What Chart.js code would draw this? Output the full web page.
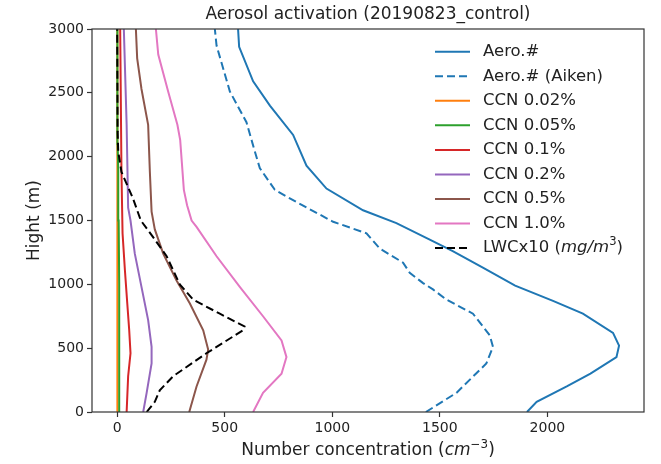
<!DOCTYPE html>
<html><head><meta charset="utf-8">
<script src="https://cdn.jsdelivr.net/npm/chart.js@4.4.0/dist/chart.umd.min.js"></script>
<style>html,body{margin:0;padding:0;background:#fff;}#wrap{width:661px;height:464px;}</style>
</head><body><div id="wrap"><canvas id="c" width="661" height="464"></canvas></div>
<script>
// ---- data (heights in m, number concentration in cm^-3) ----
const seriesLabels = ['Aero.#', 'Aero.# (Aiken)', 'CCN 0.02%', 'CCN 0.05%', 'CCN 0.1%', 'CCN 0.2%', 'CCN 0.5%', 'CCN 1.0%', 'LWCx10 (mg/m3)'];
const xTicks = [0, 500, 1000, 1500, 2000];
const yTicks = [0, 500, 1000, 1500, 2000, 2500, 3000];

const aeroH = [0,80,200,300,430,520,620,770,870,990,1130,1260,1350,1480,1580,1750,1930,2170,2400,2590,2860,3000];
const aeroN = [1905,1950,2090,2200,2321,2333,2305,2165,2026,1850,1700,1560,1453,1298,1143,973,880,818,710,632,567,562];

const aikenH = [0,150,380,510,600,770,880,960,1010,1090,1170,1280,1400,1490,1630,1740,1910,2040,2270,2510,2870,3000];
const aikenN = [1435,1577,1716,1747,1732,1654,1531,1468,1422,1360,1329,1221,1159,1004,849,733,663,640,601,524,462,454];

const ccn002H = [0,500,1000,1500,2000,2500,3000];
const ccn002N = [2,2,2,1,1,0,0];

const ccn005H = [0,500,1000,1500,1900,2100,3000];
const ccn005N = [9,10,9,7,5,2,1];

const ccn01H = [0,280,460,640,850,1110,1400,1880,3000];
const ccn01N = [44,51,62,56,47,36,25,20,14];

const ccn02H = [0,150,380,510,720,980,1240,1500,1600,2250,3000];
const ccn02N = [121,137,160,160,144,113,82,62,51,44,31];

const ccn05H = [0,200,410,490,640,850,1030,1240,1430,1570,1880,2250,2530,2770,3000];
const ccn05N = [335,369,415,423,400,338,276,214,175,160,152,144,113,93,87];

const ccn10H = [0,150,300,430,560,750,980,1220,1450,1500,1620,1740,2130,2250,2510,2800,3000];
const ccn10N = [632,678,764,787,764,678,570,462,369,346,325,310,293,280,237,191,180];

const lwcH = [0,80,170,280,460,640,670,770,880,1000,1220,1370,1500,1670,1880,2040,2200,3000];
const lwcN = [137,175,198,260,415,585,592,477,353,291,230,167,110,74,20,5,2,0];

// ---- styling ----
const colors = ['#1f77b4','#1f77b4','#ff7f0e','#2ca02c','#d62728','#9467bd','#8c564b','#e377c2','#000000'];
const dashes = [[],[8,4],[],[],[],[],[],[],[8,4]];
const FONT = "'DejaVu Sans', 'Liberation Sans', sans-serif";

const heights = [aeroH, aikenH, ccn002H, ccn005H, ccn01H, ccn02H, ccn05H, ccn10H, lwcH];
const values  = [aeroN, aikenN, ccn002N, ccn005N, ccn01N, ccn02N, ccn05N, ccn10N, lwcN];

function pts(hs, ns){ return hs.map((h,i)=>({x: ns[i], y: h})); }

const datasets = seriesLabels.map((lab, i) => ({
  label: lab,
  data: pts(heights[i], values[i]),
  borderColor: colors[i],
  backgroundColor: colors[i],
  borderWidth: 2,
  borderDash: dashes[i],
  pointRadius: 0,
  showLine: true,
  fill: false,
  tension: 0,
  order: seriesLabels.length - i
}));

// rich text helper: parts = [[text, style]] style in n / i / sup
function richWidth(ctx, parts, size){
  let w = 0;
  for (const [t, s] of parts){
    const sz = s === 'sup' ? size*0.7 : size;
    ctx.font = (s === 'i' ? 'italic ' : '') + sz + 'px ' + FONT;
    w += ctx.measureText(t).width;
  }
  return w;
}
function drawRich(ctx, parts, x, y, size){
  let cx = x;
  ctx.textBaseline = 'middle';
  ctx.textAlign = 'left';
  for (const [t, s] of parts){
    const sz = s === 'sup' ? size*0.7 : size;
    ctx.font = (s === 'i' ? 'italic ' : '') + sz + 'px ' + FONT;
    const dy = s === 'sup' ? -size*0.38 : 0;
    ctx.fillText(t, cx, y + dy);
    cx += ctx.measureText(t).width;
  }
}

const legendParts = seriesLabels.map(l => l === 'LWCx10 (mg/m3)'
  ? [['LWCx10 (', 'n'], ['mg/m', 'i'], ['3', 'sup'], [')', 'n']]
  : [[l, 'n']]);

const decor = {
  id: 'decor',
  afterDatasetsDraw(chart){
    const ctx = chart.ctx, a = chart.chartArea;
    ctx.save();
    // spines
    ctx.strokeStyle = '#333';
    ctx.lineWidth = 1.2;
    ctx.setLineDash([]);
    ctx.strokeRect(a.left, a.top, a.right - a.left, a.bottom - a.top);
    // title
    ctx.fillStyle = '#222';
    ctx.font = '17px ' + FONT;
    ctx.textAlign = 'center';
    ctx.textBaseline = 'middle';
    ctx.fillText('Aerosol activation (20190823_control)', (a.left + a.right)/2, 15);
    // x title
    const xp = [['Number concentration (', 'n'], ['cm', 'i'], ['\u22123', 'sup'], [')', 'n']];
    const w = richWidth(ctx, xp, 17);
    drawRich(ctx, xp, (a.left + a.right)/2 - w/2, 451, 17);
    // y title
    ctx.save();
    ctx.translate(35, (a.top + a.bottom)/2);
    ctx.rotate(-Math.PI/2);
    ctx.font = '17px ' + FONT;
    ctx.textAlign = 'center';
    ctx.textBaseline = 'middle';
    ctx.fillText('Hight (m)', 0, 0);
    ctx.restore();
    // legend
    const y0 = 51.7, dy = 24.55;
    for (let i = 0; i < seriesLabels.length; i++){
      const y = y0 + dy*i;
      ctx.strokeStyle = colors[i];
      ctx.lineWidth = 2;
      ctx.setLineDash(dashes[i]);
      ctx.beginPath();
      ctx.moveTo(435, y);
      ctx.lineTo(470, y);
      ctx.stroke();
      ctx.setLineDash([]);
      ctx.fillStyle = '#222';
      drawRich(ctx, legendParts[i], 483, y, 16.5);
    }
    ctx.restore();
  }
};

new Chart(document.getElementById('c'), {
  type: 'scatter',
  data: { datasets },
  plugins: [decor],
  options: {
    responsive: false,
    animation: false,
    layout: { padding: { top: 29, right: 17, left: 0, bottom: 0 } },
    plugins: { legend: { display: false }, title: { display: false }, tooltip: { enabled: false } },
    scales: {
      x: {
        type: 'linear', min: -117, max: 2449,
        afterBuildTicks: s => { s.ticks = xTicks.map(v => ({ value: v })); },
        afterFit: s => { s.height = 52; },
        border: { display: false },
        grid: { display: true, drawOnChartArea: false, drawTicks: true, tickLength: 5, tickColor: '#333', tickWidth: 1.2 },
        ticks: { color: '#222', padding: 3, font: { family: FONT, size: 14 }, maxRotation: 0, autoSkip: false, callback: v => String(v) }
      },
      y: {
        type: 'linear', min: 0, max: 3000,
        afterBuildTicks: s => { s.ticks = yTicks.map(v => ({ value: v })); },
        afterFit: s => { s.width = 92; },
        border: { display: false },
        grid: { display: true, drawOnChartArea: false, drawTicks: true, tickLength: 5, tickColor: '#333', tickWidth: 1.2 },
        ticks: { color: '#222', padding: 3, font: { family: FONT, size: 14 }, autoSkip: false, callback: v => String(v) }
      }
    }
  }
});
</script>
</body></html>
